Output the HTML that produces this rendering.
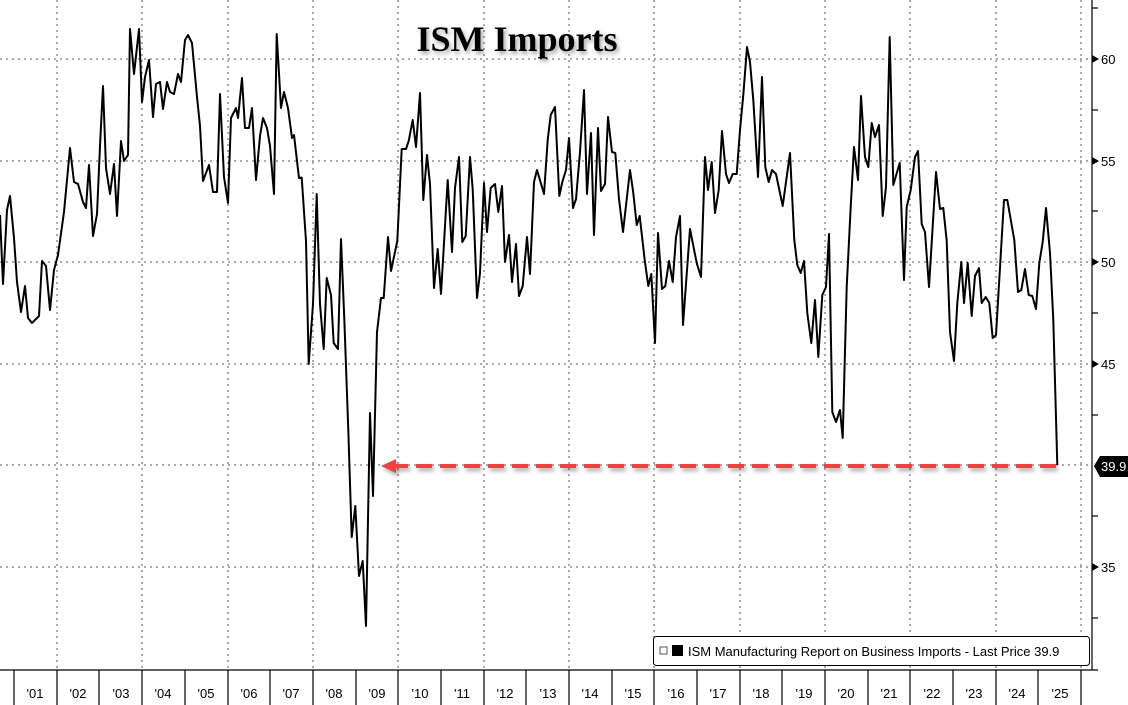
<!DOCTYPE html>
<html><head><meta charset="utf-8"><style>
body{margin:0;background:#fff;}
svg{display:block;font-family:"Liberation Sans",sans-serif;}
</style></head><body>
<svg width="1128" height="705" viewBox="0 0 1128 705" xmlns="http://www.w3.org/2000/svg">
<defs>
<filter id="sh" x="-5%" y="-50%" width="110%" height="300%"><feGaussianBlur in="SourceAlpha" stdDeviation="2"/><feOffset dx="2" dy="3"/><feComponentTransfer><feFuncA type="linear" slope="0.35"/></feComponentTransfer><feMerge><feMergeNode/><feMergeNode in="SourceGraphic"/></feMerge></filter>
</defs>
<g stroke="#555" stroke-width="1" stroke-dasharray="2,4">
<line x1="0" y1="59" x2="1092" y2="59"/><line x1="0" y1="161" x2="1092" y2="161"/><line x1="0" y1="262" x2="1092" y2="262"/><line x1="0" y1="364" x2="1092" y2="364"/><line x1="0" y1="465" x2="1092" y2="465"/><line x1="0" y1="567" x2="1092" y2="567"/>
<line x1="57" y1="0" x2="57" y2="670"/><line x1="142" y1="0" x2="142" y2="670"/><line x1="228" y1="0" x2="228" y2="670"/><line x1="313" y1="0" x2="313" y2="670"/><line x1="398" y1="0" x2="398" y2="670"/><line x1="484" y1="0" x2="484" y2="670"/><line x1="569" y1="0" x2="569" y2="670"/><line x1="654" y1="0" x2="654" y2="670"/><line x1="740" y1="0" x2="740" y2="670"/><line x1="825" y1="0" x2="825" y2="670"/><line x1="910" y1="0" x2="910" y2="670"/><line x1="996" y1="0" x2="996" y2="670"/><line x1="1081" y1="0" x2="1081" y2="670"/>
</g>
<g stroke="#000" stroke-width="1.2">
<line x1="0" y1="670" x2="1098" y2="670"/><line x1="1092" y1="0" x2="1092" y2="670"/>
<line x1="14" y1="670" x2="14" y2="705"/><line x1="57" y1="670" x2="57" y2="705"/><line x1="99" y1="670" x2="99" y2="705"/><line x1="142" y1="670" x2="142" y2="705"/><line x1="185" y1="670" x2="185" y2="705"/><line x1="228" y1="670" x2="228" y2="705"/><line x1="270" y1="670" x2="270" y2="705"/><line x1="313" y1="670" x2="313" y2="705"/><line x1="356" y1="670" x2="356" y2="705"/><line x1="398" y1="670" x2="398" y2="705"/><line x1="441" y1="670" x2="441" y2="705"/><line x1="484" y1="670" x2="484" y2="705"/><line x1="526" y1="670" x2="526" y2="705"/><line x1="569" y1="670" x2="569" y2="705"/><line x1="612" y1="670" x2="612" y2="705"/><line x1="654" y1="670" x2="654" y2="705"/><line x1="697" y1="670" x2="697" y2="705"/><line x1="740" y1="670" x2="740" y2="705"/><line x1="782" y1="670" x2="782" y2="705"/><line x1="825" y1="670" x2="825" y2="705"/><line x1="868" y1="670" x2="868" y2="705"/><line x1="910" y1="670" x2="910" y2="705"/><line x1="953" y1="670" x2="953" y2="705"/><line x1="996" y1="670" x2="996" y2="705"/><line x1="1038" y1="670" x2="1038" y2="705"/><line x1="1081" y1="670" x2="1081" y2="705"/>
<line x1="1092" y1="8" x2="1098" y2="8"/><line x1="1092" y1="110" x2="1098" y2="110"/><line x1="1092" y1="211" x2="1098" y2="211"/><line x1="1092" y1="313" x2="1098" y2="313"/><line x1="1092" y1="415" x2="1098" y2="415"/><line x1="1092" y1="516" x2="1098" y2="516"/><line x1="1092" y1="618" x2="1098" y2="618"/>
</g>
<g fill="#000"><path d="M1092,55 l7,4 l-7,4z"/><path d="M1092,157 l7,4 l-7,4z"/><path d="M1092,258 l7,4 l-7,4z"/><path d="M1092,360 l7,4 l-7,4z"/><path d="M1092,563 l7,4 l-7,4z"/></g>
<g font-size="13" fill="#000">
<text x="1101" y="64">60</text><text x="1101" y="166">55</text><text x="1101" y="267">50</text><text x="1101" y="369">45</text><text x="1101" y="572">35</text>
</g>
<g font-size="13" fill="#000" text-anchor="middle">
<text x="35" y="698">'01</text><text x="78" y="698">'02</text><text x="121" y="698">'03</text><text x="163" y="698">'04</text><text x="206" y="698">'05</text><text x="249" y="698">'06</text><text x="291" y="698">'07</text><text x="334" y="698">'08</text><text x="377" y="698">'09</text><text x="420" y="698">'10</text><text x="462" y="698">'11</text><text x="505" y="698">'12</text><text x="548" y="698">'13</text><text x="590" y="698">'14</text><text x="633" y="698">'15</text><text x="676" y="698">'16</text><text x="718" y="698">'17</text><text x="761" y="698">'18</text><text x="804" y="698">'19</text><text x="846" y="698">'20</text><text x="889" y="698">'21</text><text x="932" y="698">'22</text><text x="974" y="698">'23</text><text x="1017" y="698">'24</text><text x="1060" y="698">'25</text>
</g>
<polyline fill="none" stroke="#000" stroke-width="2" stroke-linejoin="round" points="0,215 3,284 7,210 10,196 14,238 17,282 21,312 25,286 28,318 32,323 39,316 42,261 46,266 50,310 54,270 58,255 64,212 70,148 74,182 78,184 83,202 86,208 89,165 93,236 97,214 100,146 103,86 106,168 110,194 114,164 117,216 121,141 124,161 128,155 130,29 134,74 139,29 142,102 145,77 149,60 153,117 156,84 160,82 163,109 167,82 170,92 174,94 178,74 181,82 185,40 188,35 192,43 197,97 200,126 203,181 209,165 213,192 217,192 220,94 224,177 228,203 231,118 236,108 238,118 242,78 245,128 249,128 252,108 256,180 260,136 263,118 267,128 270,146 274,194 276.7,34 281,108 284,92 288,108 292,138 294,135 299,178 301.7,177.6 306,241 308.7,364 313,304 316.7,194 320,304 323.7,349 326.7,278 331,295 333.7,343 338,349 341,239 344.3,319 348.3,430 351.7,537 355.3,506 359,576 362.7,561 366,626 370,413 373,496 377,332 381,298 383.7,298 388,237 391,271 397.3,241 401.7,149 406,149 408.7,141 412.7,120 416,147 420,93 423.3,200 427,155 430,184 434,288 437.7,249 441,294 447.7,180 452,252 455,188 459,157 462.3,242 465.7,236 470,157 472.7,189 477,298 480,273 484,183 487,232 490.7,188 495,184 498.3,212 502,186 505,262 509,235 512,282 516,244 519,296 522.7,286 527,237 530,274 534,182 537,170 544,194 547.7,140 550.7,115 555,107 559.3,196 562.3,182 566,170 569,138 573,208 576,199 580,152 584,90 587,194 591,133 594,235 598,128 601,191 605,184 608,117 612,152 615.3,153 619,199 623,232 630,170 633.3,193 636.7,225 639.7,216 644.7,260 648.3,286 651.3,274 655,343 658,233 662,289 665.3,286 669,261 672.7,282 676,237 680,216 683,325 690,229 696.7,263 701,277 705,157 708,190 711.7,162 715,213 718.7,190 722,131 726,174 729,183 732.7,174 736.7,174 740,130 743.3,95 747,47 750,62 753.3,100 758,177 762,77 765.3,167 768.7,182 772,170 776,174 782.7,206 790,153 794.3,240 797.3,265 800.7,273 804,261 807.3,313 811.3,343 815,300 818.3,357 822.3,295 826,287 829,234 832.3,412 836,422 840,410 842.7,438 846.7,287 850.7,207 854,147 858,180 861,96 865,157 868.3,167 871.7,123 875,137 879,125 882.7,216 886,187 889.7,37 893.3,185 899.7,163 904,280 906.7,207 910.7,190 915,157 918,151 921.7,224 925,232 929,287 936,172 940,209 943.3,208 946.7,241 950,332 954,361 957.3,303 961.3,262 964,303 967.7,263 971.7,316 975,276 979,268 981.7,303 985.7,297 989.3,303 992.7,338 996,335 1004,200 1007.3,200 1014.3,240 1018,292 1021.3,290 1025,269 1028.7,295 1032.3,296 1036,309 1039.3,263 1042.7,242 1046,208 1050,253 1053.3,320 1057.3,465"/>
<g filter="url(#sh)">
<line x1="392" y1="466" x2="1057" y2="466" stroke="#f04040" stroke-width="4" stroke-dasharray="16,8"/>
<path d="M381,466 L396,459 L396,473 Z" fill="#f04040"/>
</g>
<path d="M1094,466 L1100,456 L1128,456 L1128,477 L1100,477 Z" fill="#000"/>
<text x="1101" y="471" font-size="13" fill="#fff">39.9</text>
<rect x="653.5" y="636.5" width="436" height="29" rx="3" fill="#fff" stroke="#000"/>
<rect x="660" y="647" width="7" height="7" fill="none" stroke="#555"/>
<rect x="672" y="645" width="11" height="11" fill="#000"/>
<text x="688" y="656" font-size="13" fill="#000">ISM Manufacturing Report on Business Imports - Last Price 39.9</text>
<text x="517" y="51" font-family="Liberation Serif,serif" font-weight="bold" font-size="36" text-anchor="middle" fill="#000" filter="url(#sh)">ISM Imports</text>
</svg>
</body></html>
